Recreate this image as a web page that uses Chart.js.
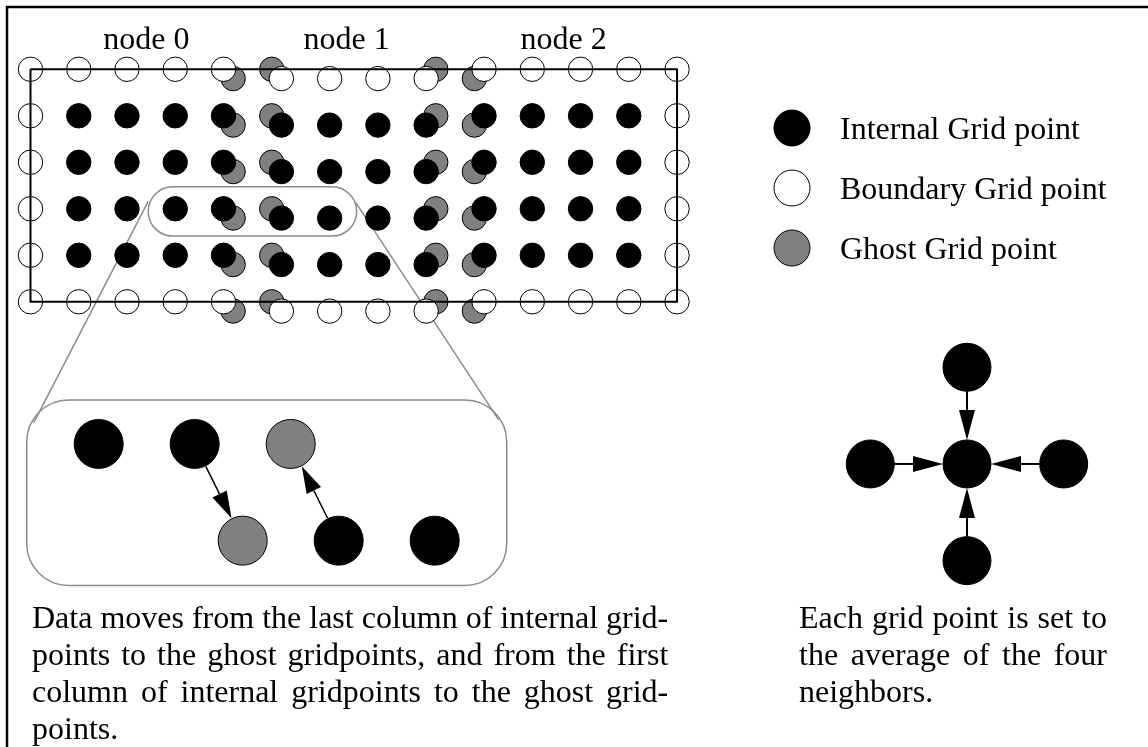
<!DOCTYPE html>
<html>
<head>
<meta charset="utf-8">
<script src="https://cdn.jsdelivr.net/npm/chart.js@4.4.0/dist/chart.umd.min.js"></script>
<style>
  html, body { margin: 0; padding: 0; background: #fff; }
  #wrap { width: 1148px; height: 747px; }
</style>
</head>
<body>
<div id="wrap"><canvas id="grid-chart" width="1148" height="747"></canvas></div>
<script>
// grid, in column / row units
const node0Cols = [0, 1, 2, 3, 4];
const node1Cols = [5.2, 6.2, 7.2, 8.2];
const node2Cols = [9.4, 10.4, 11.4, 12.4, 13.4];
const rows = [0, 1, 2, 3, 4, 5];
const node1Shift = 0.2;
// ghost columns: node 0 right, node 1 left, node 1 right, node 2 left
const ghostCols = [4.2, 5.0, 8.4, 9.2];
const ghostShift = [0.2, 0, 0, 0.2];
const nodeLabels = ["node 0", "node 1", "node 2"];
const nodeLabelCols = [2.4, 6.55, 11.05];
const zoomedCols = [3, 6.2];
const zoomedRows = [3, 3.2];

// enlarged piece
const zoomTopX = [0, 1, 2];
const zoomTopKind = ["internal", "internal", "ghost"];
const zoomBottomX = [1.5, 2.5, 3.5];
const zoomBottomKind = ["ghost", "internal", "internal"];

// five point stencil (centre first)
const stencilX = [0, 0, 0, -1, 1];
const stencilY = [0, 1, -1, 0, 0];

const legendLabels = ["Internal Grid point", "Boundary Grid point", "Ghost Grid point"];
const legendKinds = ["internal", "boundary", "ghost"];

const leftNote = [
  "Data moves from the last column of internal grid-",
  "points to the ghost gridpoints, and from the first",
  "column of internal gridpoints to the ghost grid-",
  "points."
];
const rightNote = [
  "Each grid point is set to",
  "the average of the four",
  "neighbors."
];

const fill = { internal: "#000000", boundary: "#ffffff", ghost: "#808080" };
const FONT = "32px 'Liberation Serif', 'Times New Roman', serif";

// build point lists
const internalPts = [];
const boundaryPts = [];
const ghostPts = [];
const lastRow = rows.length - 1;

node0Cols.forEach((c, i) => rows.forEach((r, j) => {
  const edge = i === 0 || j === 0 || j === lastRow;
  (edge ? boundaryPts : internalPts).push({ x: c, y: r });
}));
node1Cols.forEach(c => rows.forEach((r, j) => {
  const edge = j === 0 || j === lastRow;
  (edge ? boundaryPts : internalPts).push({ x: c, y: r + node1Shift });
}));
node2Cols.forEach((c, i) => rows.forEach((r, j) => {
  const edge = i === node2Cols.length - 1 || j === 0 || j === lastRow;
  (edge ? boundaryPts : internalPts).push({ x: c, y: r });
}));
ghostCols.forEach((c, i) => rows.forEach(r => {
  ghostPts.push({ x: c, y: r + ghostShift[i] });
}));

const outline = [
  { x: node0Cols[0], y: rows[0] },
  { x: node2Cols[node2Cols.length - 1], y: rows[0] },
  { x: node2Cols[node2Cols.length - 1], y: rows[lastRow] },
  { x: node0Cols[0], y: rows[lastRow] },
  { x: node0Cols[0], y: rows[0] }
];

const zoomPts = zoomTopX.map(x => ({ x: x, y: 0 }))
  .concat(zoomBottomX.map(x => ({ x: x, y: 1 })));
const zoomColors = zoomTopKind.concat(zoomBottomKind).map(k => fill[k]);
const stencilPts = stencilX.map((x, i) => ({ x: x, y: stencilY[i] }));

function arrow(ctx, x1, y1, x2, y2, r1, r2, headLen, headW, lw) {
  const dx = x2 - x1, dy = y2 - y1;
  const len = Math.hypot(dx, dy);
  const ux = dx / len, uy = dy / len;
  const sx = x1 + ux * r1, sy = y1 + uy * r1;
  const tx = x2 - ux * r2, ty = y2 - uy * r2;
  const bx = tx - ux * headLen, by = ty - uy * headLen;
  ctx.save();
  ctx.strokeStyle = "#000";
  ctx.fillStyle = "#000";
  ctx.lineWidth = lw;
  ctx.beginPath();
  ctx.moveTo(sx, sy);
  ctx.lineTo(bx, by);
  ctx.stroke();
  ctx.beginPath();
  ctx.moveTo(tx, ty);
  ctx.lineTo(bx - uy * headW / 2, by + ux * headW / 2);
  ctx.lineTo(bx + uy * headW / 2, by - ux * headW / 2);
  ctx.closePath();
  ctx.fill();
  ctx.restore();
}

function roundRect(ctx, l, t, r, b, rad) {
  ctx.beginPath();
  ctx.moveTo(l + rad, t);
  ctx.arcTo(r, t, r, b, rad);
  ctx.arcTo(r, b, l, b, rad);
  ctx.arcTo(l, b, l, t, rad);
  ctx.arcTo(l, t, r, t, rad);
  ctx.closePath();
}

// justified paragraph; right edge defaults to the longest line
function justified(ctx, lines, left, right, y0, lh) {
  ctx.font = FONT;
  ctx.textAlign = "left";
  ctx.textBaseline = "alphabetic";
  const widest = Math.max(...lines.map(l => ctx.measureText(l).width));
  const avail = right ? right - left : widest;
  const squeeze = Math.min(1, avail / widest);
  lines.forEach((line, i) => {
    const words = line.split(" ");
    const isLast = i === lines.length - 1;
    ctx.save();
    ctx.translate(left, y0 + i * lh);
    ctx.scale(squeeze, 1);
    const room = avail / squeeze;
    const wordsW = words.reduce((s, w) => s + ctx.measureText(w).width, 0);
    const gap = isLast || words.length < 2
      ? ctx.measureText(" ").width
      : (room - wordsW) / (words.length - 1);
    let cx = 0;
    words.forEach(w => {
      ctx.fillText(w, cx, 0);
      cx += ctx.measureText(w).width + gap;
    });
    ctx.restore();
  });
}

const diagramPlugin = {
  id: "diagram",
  beforeDatasetsDraw(chart) {
    const { ctx, scales } = chart;
    const { x, y, xz, yz } = scales;
    ctx.save();
    // page frame
    ctx.strokeStyle = "#000";
    ctx.lineWidth = 2.5;
    ctx.beginPath();
    ctx.moveTo(7, 747);
    ctx.lineTo(7, 7);
    ctx.lineTo(1148, 7);
    ctx.stroke();

    // small stadium round the enlarged rows
    const oL = x.getPixelForValue(zoomedCols[0]) - 27;
    const oR = x.getPixelForValue(zoomedCols[1]) + 27;
    const oT = y.getPixelForValue(zoomedRows[0]) - 22;
    const oB = y.getPixelForValue(zoomedRows[1]) + 18;
    ctx.strokeStyle = "#8c8c8c";
    ctx.lineWidth = 1.5;
    roundRect(ctx, oL, oT, oR, oB, (oB - oT) / 2);
    ctx.stroke();

    // enlarged box
    const bL = xz.getPixelForValue(-0.75);
    const bR = xz.getPixelForValue(4.25);
    const bT = yz.getPixelForValue(-0.455);
    const bB = yz.getPixelForValue(1.465);
    roundRect(ctx, bL, bT, bR, bB, 42);
    ctx.stroke();

    // connectors
    const oMid = (oT + oB) / 2;
    ctx.beginPath();
    ctx.moveTo(oL, oMid - 10);
    ctx.lineTo(bL + 7, bT + 23);
    ctx.moveTo(oR - 1, oMid - 9);
    ctx.lineTo(bR - 8, bT + 20);
    ctx.stroke();
    ctx.restore();
  },
  afterDatasetsDraw(chart) {
    const { ctx, scales } = chart;
    const { x, xz, yz, xc, yc } = scales;

    // arrows in the enlarged piece
    const zp = (px, py) => [xz.getPixelForValue(px), yz.getPixelForValue(py)];
    const top = zoomTopX.map(v => zp(v, 0));
    const bot = zoomBottomX.map(v => zp(v, 1));
    arrow(ctx, top[1][0], top[1][1], bot[0][0], bot[0][1], 25, 25, 27, 16, 1.5);
    arrow(ctx, bot[1][0], bot[1][1], top[2][0], top[2][1], 25, 25, 27, 16, 1.5);

    // stencil arrows
    const cx = xc.getPixelForValue(stencilX[0]);
    const cy = yc.getPixelForValue(stencilY[0]);
    for (let i = 1; i < stencilX.length; i++) {
      const px = xc.getPixelForValue(stencilX[i]);
      const py = yc.getPixelForValue(stencilY[i]);
      arrow(ctx, px, py, cx, cy, 24, 24, 30, 16, 2);
    }

    ctx.save();
    ctx.fillStyle = "#000";
    ctx.font = FONT;
    ctx.textBaseline = "alphabetic";

    // node labels
    ctx.textAlign = "center";
    nodeLabels.forEach((t, i) => {
      ctx.fillText(t, x.getPixelForValue(nodeLabelCols[i]), 49);
    });

    // legend
    legendLabels.forEach((t, i) => {
      const ly = 128 + i * 60;
      ctx.beginPath();
      ctx.arc(792, ly, 18, 0, Math.PI * 2);
      ctx.fillStyle = fill[legendKinds[i]];
      ctx.fill();
      ctx.lineWidth = 1;
      ctx.strokeStyle = "#000";
      ctx.stroke();
      ctx.fillStyle = "#000";
      ctx.textAlign = "left";
      ctx.fillText(t, 840, ly + 11);
    });
    ctx.restore();

    ctx.save();
    ctx.fillStyle = "#000";
    justified(ctx, leftNote, 32, null, 628, 37);
    justified(ctx, rightNote, 799, 1107, 628, 37);
    ctx.restore();
  }
};

const smallDot = { pointRadius: 12.2, pointBorderWidth: 1, pointBorderColor: "#000", showLine: false };

new Chart(document.getElementById("grid-chart"), {
  type: "scatter",
  data: {
    datasets: [
      {
        type: "line",
        label: "outline",
        data: outline,
        borderColor: "#000",
        borderWidth: 2,
        pointRadius: 0,
        fill: false,
        tension: 0
      },
      { label: "Internal Grid point", data: internalPts, pointBackgroundColor: fill.internal, ...smallDot },
      { label: "Boundary Grid point", data: boundaryPts, pointBackgroundColor: fill.boundary, ...smallDot },
      { label: "Ghost Grid point", data: ghostPts, pointBackgroundColor: fill.ghost, ...smallDot },
      {
        label: "enlarged",
        data: zoomPts,
        xAxisID: "xz",
        yAxisID: "yz",
        pointRadius: 24.5,
        pointBackgroundColor: zoomColors,
        pointBorderColor: "#000",
        pointBorderWidth: 1
      },
      {
        label: "stencil",
        data: stencilPts,
        xAxisID: "xc",
        yAxisID: "yc",
        pointRadius: 24,
        pointBackgroundColor: "#000",
        pointBorderColor: "#000",
        pointBorderWidth: 1
      }
    ]
  },
  options: {
    responsive: false,
    animation: false,
    events: [],
    layout: { padding: 0, autoPadding: false },
    plugins: {
      legend: { display: false },
      tooltip: { enabled: false },
      title: { display: false }
    },
    scales: {
      x: { type: "linear", display: false, min: -0.632, max: 23.161 },
      y: { type: "linear", display: false, reverse: true, min: -1.49, max: 14.575 },
      xz: { type: "linear", axis: "x", display: false, min: -1.028, max: 10.930 },
      yz: { type: "linear", axis: "y", display: false, reverse: true, min: -4.591, max: 3.134 },
      xc: { type: "linear", axis: "x", display: false, min: -10.0, max: 1.872 },
      yc: { type: "linear", axis: "y", display: false, min: -2.927, max: 4.798 }
    }
  },
  plugins: [diagramPlugin]
});
</script>
</body>
</html>
